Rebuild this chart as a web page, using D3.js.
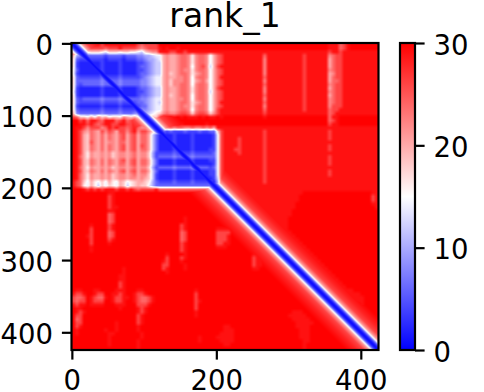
<!DOCTYPE html>
<html><head><meta charset="utf-8">
<script src="https://cdn.jsdelivr.net/npm/d3@7"></script>
<style>html,body{margin:0;padding:0;background:#fff}svg{display:block}text{font-family:"DejaVu Sans",sans-serif;fill:#000}</style>
</head><body><div id="chart"></div>
<script>
const title = "rank_1";
const residues = 425;
const binSize = 5;
const xTicks = [0, 200, 400];
const yTicks = [0, 100, 200, 300, 400];
const barTicks = [0, 10, 20, 30];
const colorStops = [0, 15, 30];
const colorRange = ["#0000ff", "#ffffff", "#ff0000"];
const diagOffsets = [0, 3, 6, 9, 13, 20, 30, 45];
const diagValues = [0.5, 2, 6, 14, 21, 26, 28, 30];
// value of each hex digit used in the rows below
const digitValues = [0, 2, 4, 6, 8, 10, 12, 14, 16, 18, 20, 22, 24, 26, 29, 30];
// one hex digit per 5-residue bin; missing trailing digits are 30
const errorRows = [
"ccd deeeedeeeeeeeeedc dddd ffffffffffffffff fffffffffffff f fffffffffffffffff eee cdeffffffff",
"eec cdddddcdddeddddcb cddd efeffeffffffffff fffffffffffff f fffffffffffffffff eee cdeffffffff",
"e97 88999879998998876 9abb eeeddeedeeeeeeee eeeeeeeeeeeee e eeeeeeeeeeeeeeeee dee deeeeeeeeee",
"a54 33333323333233344 5567 7abaabccb8bccb7a cdeeeeeeeeeee c eeeeeeeeeedeeeeee bcd deeeeeeeeee",
"932 22222212222122233 4556 7abaabccb8bccb7a cdeeeeeeeeeee b eeeeeeeeeedeeeeee acd deeeeeeeeee",
"921 11111211112111122 3456 6abaabccb8bccb7a cdeeeeeeeeeee b eeeeeeeeeedeeeeee acd deeeeeeeeee",
"921 11111211112111123 3456 6abaabccb7bcdb6a deeeeeeeeeeee b eeeeeeeeeedeeeeee acd deeeeeeeeee",
"831 11111211112111122 3456 6abaabcbb8bccb7a cdeeeeeeeeeee b eeeeeeeeeedeeeeee bcd deeeeeeeeee",
"821 11111211112111123 3456 6ab9abccb8abcb7a cdeeeeeeeeeee b eeeeeeeeeedeeeeee abd deeeeeeeeee",
"932 22222322223222223 4567 7abaabbcb7bccb7a ceeeeeeeeeeee c eeeeeeeeeedeeeeee acd deeeeeeeeee",
"933 33333433334333334 4567 7ab9bbbcb7abca7a cdeeeeeeeeeee b eeeeeeeeeedeeeeee acc deeeeeeeeee",
"932 33333433334333334 4567 7ab9bbccb7bccb7a cdeeeeeeeeeee c eeeeeeeeeedeeeeee bcd deeeeeeeeee",
"921 11111211112111123 3456 6abaabccb8bccb7a deeeeeeeeeeee b eeeeeeeeeedeeeeee acd deeeeeeeeee",
"821 11111211112111122 3456 6abaabccb8bccb6a cdeeeeeeeeeee b eeeeeeeeeedeeeeee bcd deeeeeeeeee",
"921 11111211112111123 3456 6ab9abccb7bccb7a cdeeeeeeeeeee c eeeeeeeeeedeeeeee acd deeeeeeeeee",
"932 33333433334333334 4567 7abaabbcb7bccb7a cdeeeeeeeeeee b eeeeeeeeeedeeeeee bcd deeeeeeeeee",
"932 22222322223222233 4567 6abaabccb8abcb7a ceeeeeeeeeeee c eeeeeeeeeedeeeeee bcd deeeeeeeeee",
"921 11111211112111123 3567 7abaabcbb8bccb7a cdeeeeeeeeeee b eeeeeeeeeedeeeeee bdd deeeeeeeeee",
"932 22222322223222234 4567 7abaabccb7bccb7a deeeeeeeeeeee c eeeeeeeeeedeeeeee cdd eeeeeeeeeee",
"a43 33333433334333445 5678 9bcbbcddc9cddc9b deeeeeeeeeeee d eeeeeeeeeeeeeeeee cde eeeeeeeeeee",
"dc9 98a8b9a8998ba9a87 7899 dfefefefeeefefee fefffffffffff e fffffffffffffffff cee fffffffffff",
"ffd eceedceeecdecdeca bcde ffffffffffffffff fffffffffffff f fffffffffffffffff cde fffffffffff",
"ffe ededcdeeddeeddeec cbbc eeffffeffffffeff fffffffffffff f fffffffffffffffff dee fffffffffff",
"fee dbdddbcededdcdecb b976 9bbcbccbbcbbcbca eeeeeeeeeeeee e eeeeeeeeeeeeeeeee eee eeeeeeeeeee",
"fed bacbadbdcaddbdebd db98 3323222322232233 9deeeeeeeeeee d eeeeeeeeeeeeeeeee dee eeeeeeeeeee",
"fed a9cbacacbacdacdac ca63 1111211112111112 7deeeeeeeeeee d eeeeeeeeeeeeeeeee dee eeeeeeeeeee",
"fed a9cbacacbacdacdac ca63 1111211112111112 7deeeedeeeeee d eeeeeeeeeeeeeeeee dee eeeeeeeeeee",
"fed a9dbacabbaccacdac ca63 1111211112111112 7deeeedeeeeee d eeeeeeeeeeeeeeeee eee eeeeeeeeeee",
"fed a9cbacacbacdacdad ca63 1111211112111112 7deeeedeeeeee d eeeeeeeeeeeeeeeee dee eeeeeeeeeee",
"fed a9cbacacbacdacdac ca63 1111211112111122 7deeeddeeeeee d eeeeeeeeeeeeeeeee dee eeeeeeeeeee",
"fed a8baabab9abbabcab b952 2222322223222223 7deeeedeeeeee d eeeeeeeeeeeeeeeee eee eeeeeeeeeee",
"fec a8baabab9abbabcab b952 3333433334333333 7deeeeeeeeeee d eeeeeeeeeeeeeeeee dee eeeeeeeeeee",
"fed a9cbacacbacdacdac ca63 1111211112111122 7deeeeeeeeeee d eeeeeeeeeeeeeeeee dee eeeeeeeeeee",
"fed a9cbacacbaccacdac ca63 1111211112111112 7deeeeeeeeeee d eeeeeeeeeeeeeeeee dee eeeeeeeeeee",
"fec a8baabab9abbabcab b952 3333433334333323 7deeeeeeeeeee d eeeeeeeeeeeeeeeee eee eeeeeeeeeee",
"fed a9cbacacbacdacdac ca63 1111211112111122 7deeeeeeeeeee d eeeeeeeeeeeeeeeee dee eeeeeeeeeee",
"fec a8baabab9abbabcab b962 1111211112111122 7deeeeeeeeeee d eeeeeeeeeeeeeeeee dee eeeeeeeeeee",
"fec a8baabab9abbabbab a962 1111211112111112 6deeeeeeeeeee d eeeeeeeeeeeeeeeee eee eeeeeeeeeee",
"edc 97a8797a87a9789aa 9853 2222322223222221 5ceeeeeeeeeee d eeeeeeeeeeeeeeeee eee eeeeeeeeeee",
"edc 87a8697987a9689a9 9753 3333333333333332 5ceeeeeeeeeee e eeeeeeeeeeeeeeeee eee eeeeeeeeeee",
"fff edededeeedeededcd ddde ccccccccccccccc9 9deeeeeeeeeee e eeeeeeeeeeeeeeeee eee eeeeeeeeeee",
"ffffffffff eeffffffff ffffffffff ffffffffff eeeeeeeeee eeeeeeeeee eeeeffffff ffffffffff fffee",
"ffffffffff deffffffff ffffffffff ffffffffff feeeeeeeee eeeeeeeeee eeefffffff ffffffffff fffde",
"ffffffffff deffffffff ffffffffff ffffffffff ffeeeeeeee eeeeeeeeee eeefffffff ffffffffff fffde",
"ffffffffff deffffffff ffffffffff ffffffffff ffffeeeeee eeeeeeeeee eeffffffff ffffffffff fffee",
"ffffffffff deefffffff ffffffffff ffffffffff ffffffeeee eeeeeeeeee eeffffffff ffffffffff ffffe",
"ffffffffff eeffffffff ffffffffff ffffffffff ffffffffee eeeeeeeeee efffffffff",
"ffffffffff cdffffffff ffffffffff ffffffffff ffffffffff eeeeeeeeee efffffffff",
"ffffffffff cdffffffff ffffffffff feffffffff ffffffffff ffeeeeeeee ffffffffff",
"ffffffffff cdffffffff ffffffffff feffffffff ffffffffff fffeeeeeee ffffffffff",
"fffffeffff deffffffff ffffffffff deffffffff ffffffffff ffffeeeeee ffffffffff",
"fffffdffff deffffffff ffffffffff deffffffff eeeeffffff ffffffeeee ffffffffff",
"fffffdffff cdffffffff ffffffffff cdffffffff ddddffffff fffffffeee efffffffff",
"ffffedffff cdffffffff ffffffffff cdffffffff dddeffffff ffffffffee eeffffffff",
"fffffdffff deffffffff ffffffffff cdffffffff dddeffffff ffffffffff eeefffffff",
"fffffdffff efffffffff ffffffffff deffffffff ddeeffffff ffffffffff feeeffffff",
"fffffeffff ffffffffff ffffffffff deffffffff eeefffffff ffffffffff ffeeefffff",
"fffffeffff ffffffffff ffffffffff deffffffff ffffffffff eeffffffff fffeeeffff",
"ffffffffff ffffffffff ffffffefff feffffffff ffffffffff eeefffffff ffffeeefff",
"ffffffffff ffffffffff ffffffdfff deffffffff ffffffffff deefffffff fffffeeeff",
"ffffffffff ffffffffff fffffedfff efffffffff ffffffffff deefffffff ffffffeeef",
"ffffffffff ffffffffff fffffddfff feffffffff ffffffffff deefffffff fffffffeee",
"ffffffffff ffffefffff fffffdefff feffffffff ffffffffff eeffffffff ffffffffee e",
"ffffffffff ffffefffff ffffffefff ffffffffff ffffffffff ffffffffff ffffffffff ee",
"ffffffffff fffeefffff ffffffffff ffffffffff ffffffffff ffffffffff ffffffffff fee",
"ffffffffff fffeefffff ffffffffff ffffffffff ffffffffff ffffffffff ffffffffff ffee",
"ffffffffff fffdefffff ffffffffff ffffffffff ffffffffff ffffffffff ffffffffff fffee",
"ffffffffff fffdefffff ffffffffff ffffffffff ffffffffff ffffffffff ffffffffff ffffee",
"feefffeeff ffeeefffee ffffffffff ffffefffff ffffffffff ffffffffff ffffffffff fffffeee",
"eddeffeddf feedeffedd efffffffff ffffdfffff ffffffffff ffffffffff ffffffffff ffffffeee e",
"dccdfedcce feddeefedc cdefffffff ffffdfffff ffffffffff ffffffffff ffffffffff fffffffeee e",
"dcddfedddf feddeffedc cdefffffff ffffdeffff ffffffffff ffffffffff ffffffffff ffffffffee e",
"edeefeeeef ffeeefffdd deffffffff ffffdfffff ffffffffff ffffffffff ffffffffff ffffffffff e",
"feefffffff fffeffffed efffffffff ffffdfffff ffffffffff ffffffffff ffffffffff ffffffffff",
"fedeffffff ffffffffed efffffffff ffffefffff ffffffffff ffffffffff feeeffffff",
"fddfffffff ffffffffde ffffffffff ffffefffff ffffffffff ffffffffff eeeeefffff",
"fcdfffffff ffffffffde ffffffffff ffffffffff ffffffffff ffffffffff feeeeeffff",
"fddfffffff ffefffffde ffffffffff ffffffffff ffffffffff ffffffffff ffeeeeefff",
"fdefffffff ffefffffef ffffffffff ffffffffff ffeeffffff ffffffffff ffeeeeffff",
"fefffffffe ffefffffef ffffffffff ffffffffff ffeeefffff ffffffffff fffeeeffff",
"feffffffff eefffffffe ffffffffff ffffffffff feeeefffff ffffffffff fffeeeffff",
"ffffffffff effffffffe ffffffffff fffffeffff eeeeefffff ffffffffff fffeeeffff",
"ffffffffff efffffffef ffffffffff fffffeffff feeeefffff ffffffffff ffffeeffff",
"ffffffffff efffffffef ffffffffff ffffffffff ffeeffffff ffffffffff ffffefffff",
"ffffffffff ffffffffef ffffffffff ffffffffff ffffffffff ffffffffff ffffefffff"
];

const plotLeft = 71.5, plotRight = 378.5, plotTop = 43, plotBottom = 350;
const barLeft = 400, barRight = 415;
const fontSize = 27.5, titleSize = 33, lineW = 2.2, tickLen = 9.6;

const x = d3.scaleLinear().domain([-0.5, residues - 0.5]).range([plotLeft, plotRight]);
const y = d3.scaleLinear().domain([-0.5, residues - 0.5]).range([plotTop, plotBottom]);
const color = d3.scaleLinear().domain(colorStops).range(colorRange).clamp(true);
const diag = d3.scaleLinear().domain(diagOffsets).range(diagValues).clamp(true);
const barScale = d3.scaleLinear().domain([0, 30]).range([plotBottom, plotTop]);

const nBins = Math.round(residues / binSize);
const grid = errorRows.map(r => {
  const s = r.replace(/ /g, "").padEnd(nBins, "f");
  return Array.from(s, c => digitValues[parseInt(c, 16)]);
});
const at = (r, c) => grid[Math.max(0, Math.min(nBins - 1, r))][Math.max(0, Math.min(nBins - 1, c))];
function sample(dx, dy) {
  const gx = (dx + 0.5) / binSize - 0.5, gy = (dy + 0.5) / binSize - 0.5;
  const c0 = Math.floor(gx), r0 = Math.floor(gy), fx = gx - c0, fy = gy - r0;
  return (at(r0, c0) * (1 - fx) + at(r0, c0 + 1) * fx) * (1 - fy)
       + (at(r0 + 1, c0) * (1 - fx) + at(r0 + 1, c0 + 1) * fx) * fy;
}

const W = Math.round(plotRight - plotLeft), H = Math.round(plotBottom - plotTop);
const cv = document.createElement("canvas"); cv.width = W; cv.height = H;
const ctx = cv.getContext("2d");
const img = ctx.createImageData(W, H);
for (let j = 0; j < H; j++) for (let i = 0; i < W; i++) {
  const dx = x.invert(plotLeft + i + 0.5), dy = y.invert(plotTop + j + 0.5);
  const v = Math.min(sample(dx, dy), diag(Math.abs(dx - dy)));
  const c = d3.rgb(color(v)), k = (j * W + i) * 4;
  img.data[k] = c.r; img.data[k + 1] = c.g; img.data[k + 2] = c.b; img.data[k + 3] = 255;
}
ctx.putImageData(img, 0, 0);

const svg = d3.select("#chart").append("svg").attr("width", 484).attr("height", 392);
svg.append("image").attr("x", plotLeft).attr("y", plotTop).attr("width", W).attr("height", H)
  .attr("href", cv.toDataURL());

const defs = svg.append("defs");
const grad = defs.append("linearGradient").attr("id", "bar").attr("x1", 0).attr("x2", 0).attr("y1", 1).attr("y2", 0);
grad.selectAll("stop").data(colorStops).join("stop")
  .attr("offset", d => d / 30).attr("stop-color", d => color(d));
svg.append("rect").attr("x", barLeft).attr("y", plotTop).attr("width", barRight - barLeft)
  .attr("height", plotBottom - plotTop).attr("fill", "url(#bar)").attr("stroke", "#000").attr("stroke-width", lineW);

svg.append("rect").attr("x", plotLeft).attr("y", plotTop).attr("width", W).attr("height", H)
  .attr("fill", "none").attr("stroke", "#000").attr("stroke-width", lineW);

function style(g) {
  g.select(".domain").remove();
  g.selectAll("line").attr("stroke", "#000").attr("stroke-width", lineW);
  g.selectAll("text").attr("font-size", fontSize).attr("font-family", '"DejaVu Sans"').attr("fill", "#000");
}
svg.append("g").attr("transform", `translate(0,${plotBottom})`)
  .call(d3.axisBottom(x).tickValues(xTicks).tickSize(tickLen).tickPadding(11).tickFormat(d3.format("d"))).call(style);
svg.append("g").attr("transform", `translate(${plotLeft},0)`)
  .call(d3.axisLeft(y).tickValues(yTicks).tickSize(tickLen).tickPadding(9).tickFormat(d3.format("d"))).call(style)
  .selectAll("text").attr("dy", "0.4em");
svg.append("g").attr("transform", `translate(${barRight},0)`)
  .call(d3.axisRight(barScale).tickValues(barTicks).tickSize(tickLen).tickPadding(9).tickFormat(d3.format("d"))).call(style)
  .selectAll("text").attr("dy", "0.4em");

svg.append("text").attr("x", (plotLeft + plotRight) / 2).attr("y", 26.5).attr("text-anchor", "middle")
  .attr("font-size", titleSize).text(title);
</script></body></html>
